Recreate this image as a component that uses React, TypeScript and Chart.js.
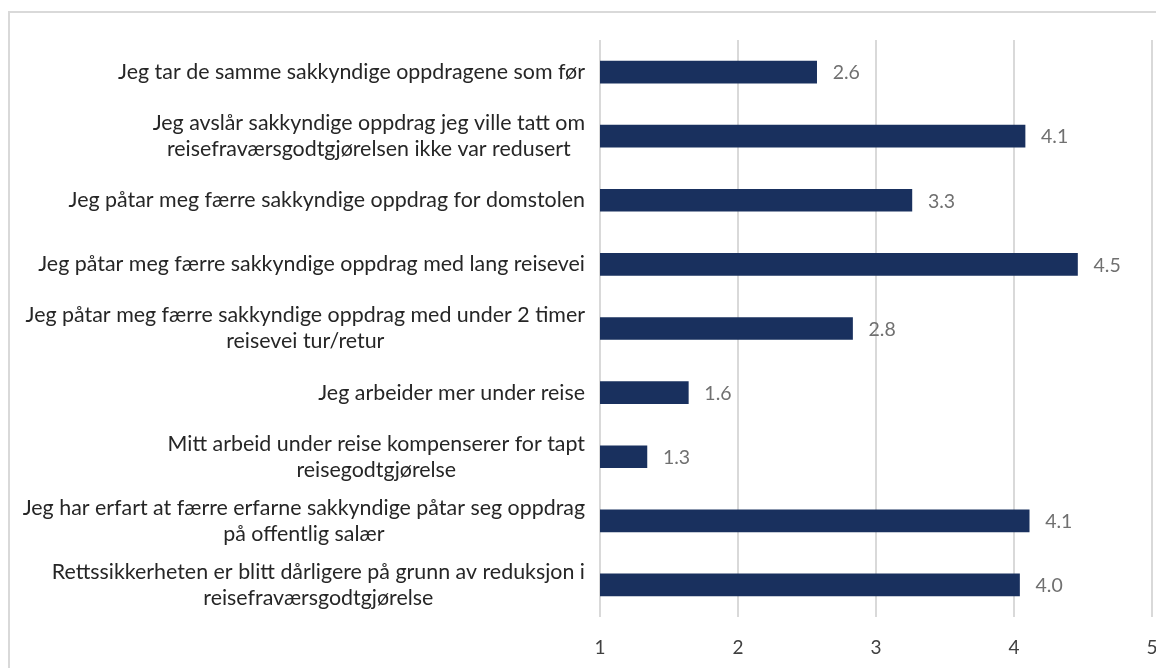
import React, { useEffect, useRef } from "react";
import { Chart, registerables } from "chart.js";

Chart.register(...registerables);

const categories: (string | string[])[] = [
  "Jeg tar de samme sakkyndige oppdragene som før",
  ["Jeg avslår sakkyndige oppdrag jeg ville tatt om", "reisefraværsgodtgjørelsen ikke var redusert"],
  "Jeg påtar meg færre sakkyndige oppdrag for domstolen",
  "Jeg påtar meg færre sakkyndige oppdrag med lang reisevei",
  ["Jeg påtar meg færre sakkyndige oppdrag med under 2 timer", "reisevei tur/retur"],
  "Jeg arbeider mer under reise",
  ["Mitt arbeid under reise kompenserer for tapt", "reisegodtgjørelse"],
  ["Jeg har erfart at færre erfarne sakkyndige påtar seg oppdrag", "på offentlig salær"],
  ["Rettssikkerheten er blitt dårligere på grunn av reduksjon i", "reisefraværsgodtgjørelse"],
];

const values: number[] = [2.57, 4.08, 3.26, 4.46, 2.83, 1.64, 1.34, 4.11, 4.04];

const xTicks: number[] = [1, 2, 3, 4, 5];

const FONT = "Lato";
const LABEL_SIZE = 21.4;

const labelPlugin = {
  id: "customLabels",
  afterDraw(chart: any) {
    const ctx = chart.ctx as CanvasRenderingContext2D;
    const yScale = chart.scales.y;
    ctx.save();
    ctx.font = `${LABEL_SIZE}px ${FONT}`;
    ctx.fillStyle = "#262626";
    ctx.textBaseline = "middle";
    ctx.textAlign = "center";
    const lineH = 26;
    const right = yScale.right - 15;
    categories.forEach((cat, i) => {
      const lines = Array.isArray(cat) ? cat : [cat];
      const w = Math.max(...lines.map((l) => ctx.measureText(l).width));
      const cx = right - w / 2;
      const yc = yScale.getPixelForTick(i);
      const y0 = yc - ((lines.length - 1) * lineH) / 2;
      lines.forEach((l, j) => ctx.fillText(l, cx, y0 + j * lineH));
    });
    // value labels
    const meta = chart.getDatasetMeta(0);
    ctx.font = `19.5px ${FONT}`;
    ctx.fillStyle = "#707070";
    ctx.textAlign = "left";
    meta.data.forEach((bar: any, i: number) => {
      ctx.fillText(values[i].toFixed(1), bar.x + 16, bar.y + 1);
    });
    ctx.restore();
  },
};

export default function App() {
  const ref = useRef<HTMLCanvasElement>(null);
  useEffect(() => {
    if (!ref.current) return;
    const chart = new Chart(ref.current, {
      type: "bar",
      data: {
        labels: categories as any,
        datasets: [
          {
            data: values,
            backgroundColor: "#19305e",
            barThickness: 22,
          },
        ],
      },
      options: {
        indexAxis: "y",
        animation: false,
        responsive: false,
        layout: { padding: { top: 27, right: 18, bottom: 0, left: 0 } },
        plugins: { legend: { display: false }, tooltip: { enabled: false } },
        scales: {
          x: {
            min: 1,
            max: 5,
            afterBuildTicks: (s: any) => {
              s.ticks = xTicks.map((v) => ({ value: v }));
            },
            afterFit: (s: any) => {
              s.height = 51;
              s.paddingLeft = 0;
              s.paddingRight = 0;
            },
            grid: { color: "#d9d9d9", lineWidth: 2, drawTicks: false },
            border: { display: false },
            ticks: {
              color: "#404040",
              font: { family: FONT, size: 19 },
              padding: 19,
            },
          },
          y: {
            grid: { display: false },
            border: { display: false },
            ticks: { display: false },
            afterFit: (s: any) => {
              s.width = 590;
            },
          },
        },
      },
      plugins: [labelPlugin],
    });
    return () => chart.destroy();
  }, []);
  return (
    <div
      style={{
        position: "fixed",
        left: 8,
        top: 11,
        width: 1170,
        height: 710,
        border: "2px solid #d9d9d9",
        boxSizing: "border-box",
        background: "#fff",
      }}
    >
      <canvas ref={ref} width={1160} height={655} style={{ display: "block" }} />
    </div>
  );
}
